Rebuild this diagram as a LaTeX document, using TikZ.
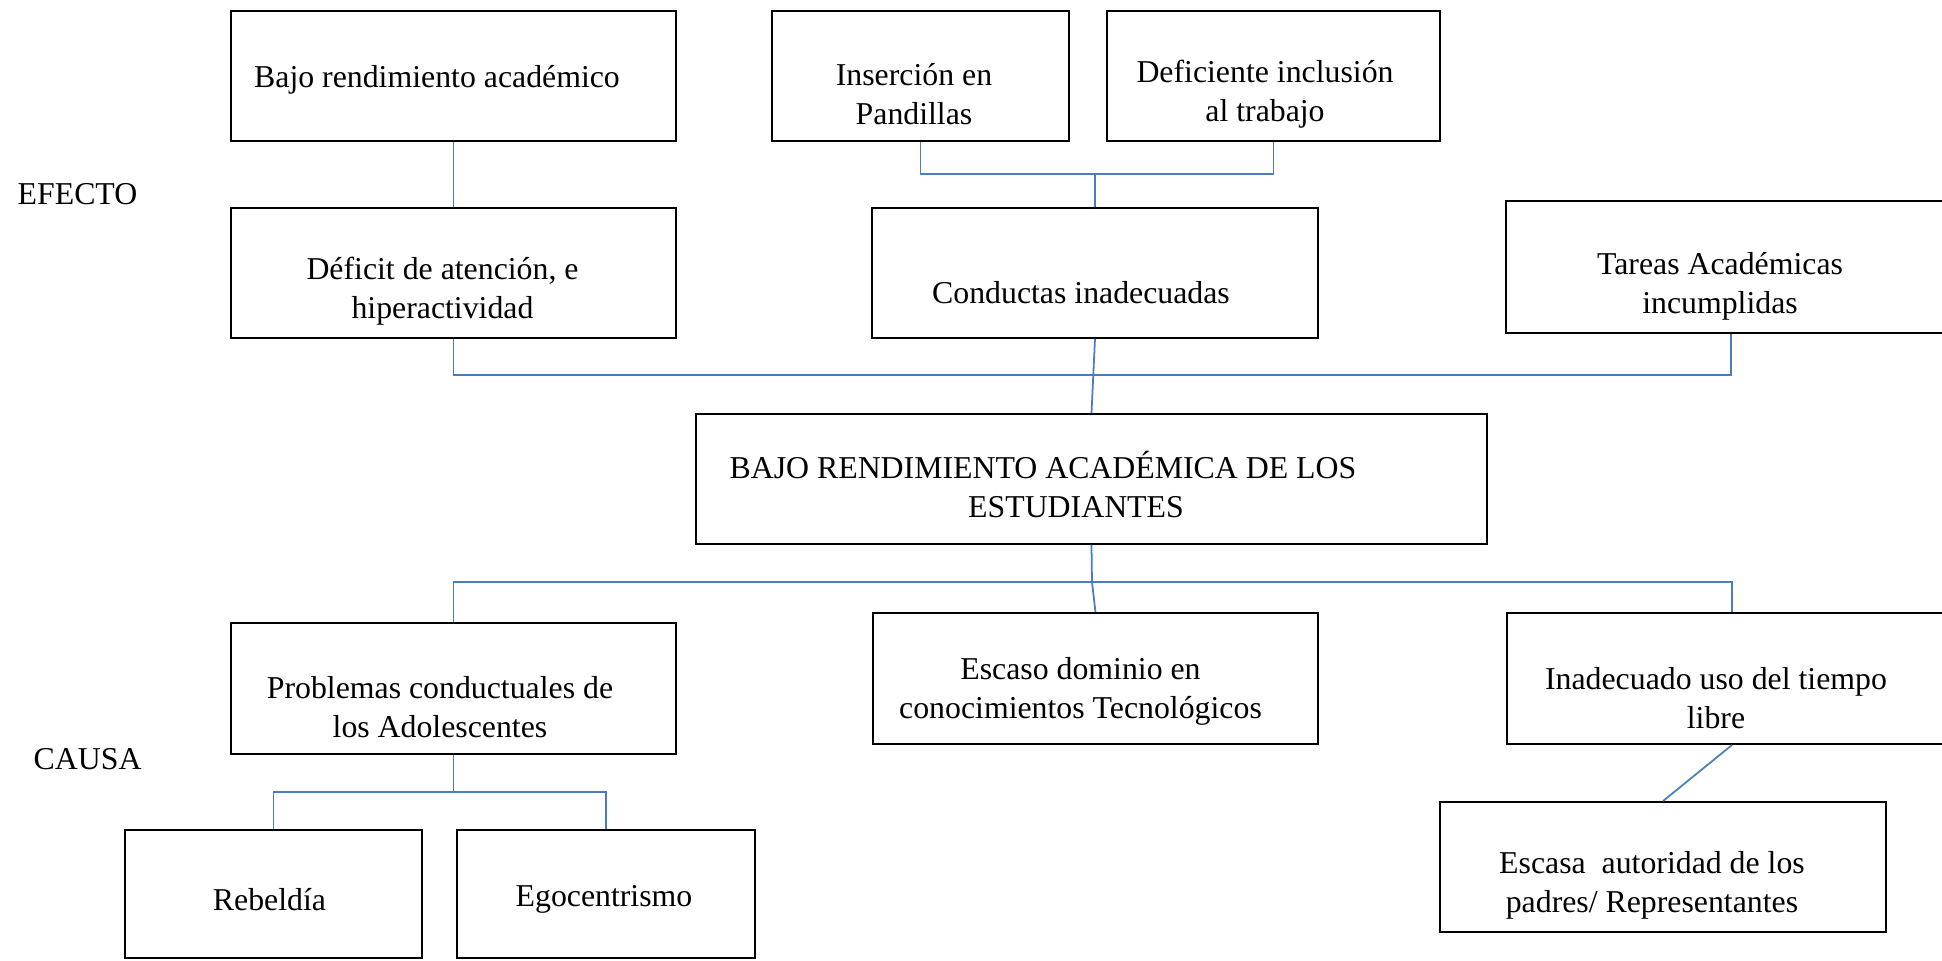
\documentclass[tikz,border=0pt]{standalone}
\usepackage{fontspec}
\setmainfont{Liberation Serif}
\usepackage{tikz}
\definecolor{lineblue}{HTML}{4A7EBB}

\begin{document}
\begin{tikzpicture}[font=\fontsize{9.05}{11.1}\selectfont,
  box/.style={draw, line width=0.55pt, inner sep=0pt, minimum height=1.30cm},
  link/.style={draw=lineblue, line width=0.5pt},
  every label/.style={align=center, inner sep=0pt}]
\useasboundingbox (0,0) rectangle (19.42,-9.60);

% efectos
\node[box, minimum width=4.45cm, label={[xshift=-1.65mm,yshift=-0.36mm]center:{Bajo rendimiento académico}}] (bajo) at (4.535,-0.76) {};
\node[box, minimum width=2.97cm, label={[xshift=-0.65mm,yshift=-1.8mm]center:{Inserción en\\Pandillas}}] (pandillas) at (9.205,-0.76) {};
\node[box, minimum width=3.33cm, label={[xshift=-0.85mm,yshift=-1.8mm]center:{Deficiente inclusión\\al trabajo}}] (trabajo) at (12.735,-0.76) {};
\node[box, minimum width=4.45cm, label={[xshift=-1.1mm,yshift=-1.86mm]center:{Déficit de atención, e\\hiperactividad}}] (deficit) at (4.535,-2.73) {};
\node[box, minimum width=4.46cm, label={[xshift=-1.4mm,yshift=-1.96mm]center:{Conductas inadecuadas}}] (conductas) at (10.95,-2.73) {};
\node[box, minimum width=4.50cm, minimum height=1.32cm, label={[xshift=-1.1mm,yshift=-1.9mm]center:{Tareas Académicas\\incumplidas}}] (tareas) at (17.31,-2.67) {};

% problema central
\node[box, minimum width=7.91cm, label={[xshift=-4.85mm,yshift=-0.55mm]center:{BAJO RENDIMIENTO ACADÉMICA DE LOS\\\hspace*{6.6mm}ESTUDIANTES}}] (central) at (10.915,-4.79) {};

% causas
\node[box, minimum width=4.45cm, minimum height=1.31cm, label={[xshift=-1.35mm,yshift=-1.9mm]center:{Problemas conductuales de\\los Adolescentes}}] (problemas) at (4.535,-6.885) {};
\node[box, minimum width=4.45cm, minimum height=1.31cm, label={[xshift=-1.5mm,yshift=-1.25mm]center:{Escaso dominio en\\conocimientos Tecnológicos}}] (dominio) at (10.955,-6.785) {};
\node[box, minimum width=4.50cm, minimum height=1.31cm, label={[xshift=-1.6mm,yshift=-1.95mm]center:{Inadecuado uso del tiempo\\libre}}] (tiempo) at (17.32,-6.785) {};
\node[box, minimum width=2.97cm, minimum height=1.28cm, label={[xshift=-0.4mm,yshift=-0.55mm]center:{Rebeldía}}] (rebeldia) at (2.735,-8.94) {};
\node[box, minimum width=2.98cm, minimum height=1.28cm, label={[xshift=-0.2mm,yshift=-0.55mm]center:{Egocentrismo}}] (ego) at (6.06,-8.94) {};
\node[box, minimum width=4.46cm, label={[xshift=-1.1mm,yshift=-1.8mm]center:{Escasa\ \ autoridad de los\\padres/ Representantes}}] (autoridad) at (16.63,-8.67) {};

\node[anchor=base west, inner sep=0pt] (efecto) at (0.17,-2.04) {EFECTO};
\node[anchor=base west, inner sep=0pt] (causa) at (0.33,-7.69) {CAUSA};

% uniones
\coordinate (jpand) at (10.95,-1.74);
\coordinate (jefe) at (10.93,-3.75);
\coordinate (jcau) at (10.92,-5.82);
\coordinate (jprob) at (4.535,-7.92);

\draw[link] (bajo) -- (deficit);
\draw[link] (pandillas.south) |- (jpand) -| (trabajo.south);
\draw[link] (jpand) -- (conductas.north);
\draw[link] (deficit.south) |- (jefe);
\draw[link] (tareas.south) |- (jefe);
\draw[link] (conductas.south) -- (central.north);
\draw[link] (central.south) -- (jcau);
\draw[link] (jcau) -| (problemas.north);
\draw[link] (jcau) -| (tiempo.north);
\draw[link] (jcau) -- (dominio.north);
\draw[link] (problemas.south) -- (jprob);
\draw[link] (jprob) -| (rebeldia.north);
\draw[link] (jprob) -| (ego.north);
\draw[link] (tiempo.south) -- (autoridad.north);
\end{tikzpicture}
\end{document}
